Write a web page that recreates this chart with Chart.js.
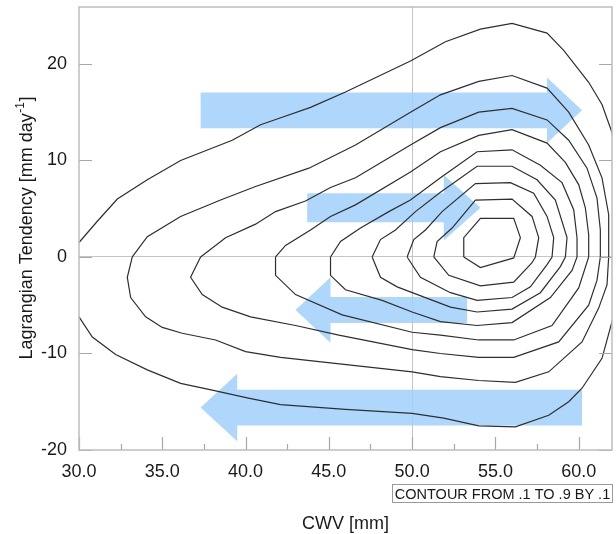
<!DOCTYPE html>
<html>
<head>
<meta charset="utf-8">
<script src="https://cdn.jsdelivr.net/npm/chart.js@4/dist/chart.umd.min.js"></script>
<style>
  html, body { margin: 0; padding: 0; background: #ffffff; }
  #wrap { width: 616px; height: 534px; }
</style>
</head>
<body>
<div id="wrap"><canvas id="chart" width="616" height="534"></canvas></div>
<script>
// ---- axis ticks ----
const xTicks = [30, 35, 40, 45, 50, 55, 60];
const xMinorTicks = [32.5, 37.5, 42.5, 47.5, 52.5, 57.5];
const yTicks = [-20, -10, 0, 10, 20];

// ---- contour levels of the joint frequency (normalised), outermost first ----
const levels = [0.1, 0.2, 0.3, 0.4, 0.5, 0.6, 0.7, 0.8, 0.9];

// each contour: [CWV (mm), Lagrangian tendency (mm/day)]
const c01 = [[30.0,1.5],[31.1,3.7],[32.3,6.0],[34.1,8.0],[36.1,10.0],[39.2,12.1],[40.9,13.7],[41.9,14.3],
  [43.9,15.5],[46.0,17.1],[49.9,20.3],[52.0,22.3],[54.1,23.6],[56.0,24.2],[58.1,23.2],[59.1,21.4],
  [60.6,18.1],[61.4,15.8],[62.0,12.9],[62.5,8.0],[62.8,3.0],[62.7,-2.0],[62.0,-6.7],[61.4,-10.5],
  [60.2,-13.6],[59.4,-15.0],[58.2,-16.4],[56.2,-17.6],[54.0,-17.5],[51.9,-16.7],[50.0,-16.2],
  [46.0,-15.8],[42.1,-15.3],[40.1,-14.6],[38.0,-13.8],[36.1,-13.1],[34.1,-11.7],[32.2,-10.1],
  [30.8,-8.3],[30.0,-6.2]];
const c02 = [[33.2,0.0],[34.1,2.1],[36.1,4.2],[38.5,5.9],[40.6,7.3],[43.8,9.2],[46.6,11.6],[49.9,15.0],
  [51.7,16.8],[54.0,18.2],[56.0,18.8],[58.1,17.5],[59.4,15.0],[60.6,11.6],[61.4,8.2],[61.8,4.4],
  [61.8,0.0],[61.7,-2.9],[61.2,-5.3],[60.2,-8.8],[58.2,-11.9],[56.2,-13.0],[54.0,-12.8],[51.7,-12.4],
  [50.0,-11.9],[42.1,-10.4],[40.0,-9.8],[38.2,-8.6],[36.2,-7.9],[35.0,-7.3],[34.0,-6.2],[33.1,-4.2],
  [32.9,-2.1]];
const c03 = [[37.3,0.0],[38.8,2.0],[40.6,3.4],[41.8,4.7],[43.6,5.8],[45.1,7.2],[46.6,8.2],[49.9,11.6],
  [51.7,13.4],[54.0,15.0],[56.0,15.4],[58.1,14.2],[59.4,12.1],[60.5,9.2],[61.1,6.1],[61.3,2.8],
  [61.3,0.0],[61.1,-2.4],[60.6,-5.0],[58.8,-8.8],[56.1,-10.4],[54.0,-10.4],[51.7,-10.0],[50.0,-9.6],
  [45.6,-8.1],[43.0,-7.1],[40.3,-6.2],[38.6,-5.2],[37.4,-3.9],[36.7,-2.1]];
const c04 = [[41.8,0.0],[42.4,1.2],[43.9,2.8],[45.1,4.2],[46.6,5.4],[49.9,8.8],[51.7,10.9],[54.0,12.6],
  [56.0,13.2],[58.1,11.8],[59.2,9.8],[60.0,7.5],[60.4,5.1],[60.6,2.3],[60.6,0.0],[60.0,-3.2],
  [58.4,-7.1],[56.1,-8.6],[54.0,-8.6],[51.7,-8.1],[50.0,-7.8],[45.8,-6.0],[43.0,-3.9],[41.8,-1.9]];
const c05 = [[45.1,0.0],[45.7,1.6],[46.9,3.0],[48.6,4.7],[49.9,5.9],[51.7,8.2],[53.9,10.9],[56.0,11.1],
  [57.7,9.5],[59.0,7.7],[59.7,4.9],[59.9,2.0],[59.9,0.0],[59.6,-1.4],[58.3,-4.2],[56.0,-6.8],
  [53.9,-7.1],[51.7,-6.7],[50.0,-5.7],[48.2,-4.5],[46.0,-3.4],[45.1,-1.9]];
const c06 = [[47.6,0.0],[48.1,1.8],[49.0,2.8],[50.2,4.7],[51.7,6.7],[53.9,9.4],[56.0,9.4],[57.5,8.0],
  [58.6,5.9],[59.3,2.0],[59.2,0.0],[58.9,-1.0],[57.7,-3.7],[56.0,-5.4],[53.9,-5.7],[52.3,-5.2],
  [49.1,-3.1],[48.1,-2.1]];
const c07 = [[49.7,0.0],[50.1,1.8],[50.8,2.8],[51.8,4.7],[53.8,7.6],[55.9,7.7],[57.3,6.6],[58.1,4.2],
  [58.5,2.0],[58.4,0.0],[58.1,-0.8],[57.1,-3.1],[56.0,-4.2],[53.9,-4.5],[52.3,-3.7],[50.5,-2.1]];
const c08 = [[51.3,0.0],[51.5,1.6],[52.4,3.0],[53.8,5.9],[56.0,6.0],[57.2,4.2],[57.6,2.0],[57.4,0.0],
  [57.2,-0.6],[56.1,-2.6],[54.1,-3.0],[52.2,-1.9]];
const c09 = [[53.1,0.0],[53.1,2.0],[54.1,4.0],[56.1,4.0],[56.5,2.0],[56.1,-0.1],[54.1,-1.1]];

const contours = [c01, c02, c03, c04, c05, c06, c07, c08, c09];
const openContours = [true, false, false, false, false, false, false, false, false];

// ---- flow arrows: tail x, tip x, centre y, shaft half-width, head half-width, head length ----
const arrowTail  = [37.3, 43.7, 53.3, 60.2];
const arrowTip   = [60.2, 54.1, 43.0, 37.3];
const arrowY     = [15.2, 5.1, -5.5, -15.6];
const arrowShaft = [1.85, 1.5, 1.35, 1.85];
const arrowHead  = [3.4, 3.4, 3.4, 3.5];
const arrowLen   = [2.1, 2.2, 2.1, 2.2];

const FONT = '"Liberation Sans", Arial, Helvetica, sans-serif';

function arrowPolygon(i) {
  const t = arrowTail[i], p = arrowTip[i], c = arrowY[i];
  const s = arrowShaft[i], h = arrowHead[i];
  const d = Math.sign(p - t);
  const b = p - d * arrowLen[i];
  const pts = [[t, c + s], [b, c + s], [b, c + h], [p, c], [b, c - h], [b, c - s], [t, c - s], [t, c + s]];
  return pts.map(([x, y]) => ({ x, y }));
}

const datasets = [];
arrowTail.forEach((_, i) => {
  datasets.push({
    label: 'arrow' + (i + 1),
    data: arrowPolygon(i),
    showLine: true,
    borderWidth: 0,
    borderColor: 'rgba(0,0,0,0)',
    backgroundColor: 'rgba(160,208,250,0.85)',
    fill: 'shape',
    pointRadius: 0,
    pointHoverRadius: 0,
    tension: 0,
    order: 2
  });
});
contours.forEach((c, i) => {
  const pts = c.map(([x, y]) => ({ x, y }));
  if (!openContours[i]) pts.push({ x: c[0][0], y: c[0][1] });
  datasets.push({
    label: 'level ' + levels[i].toFixed(1),
    data: pts,
    showLine: true,
    borderColor: '#2e2e2e',
    borderWidth: 1.2,
    fill: false,
    pointRadius: 0,
    pointHoverRadius: 0,
    tension: 0,
    order: 1
  });
});

// frame, inward tick marks, axis titles and contour note
const decorations = {
  id: 'decorations',
  afterDatasetsDraw(chart) {
    const { ctx, chartArea: a, scales } = chart;
    const xs = scales.x, ys = scales.y;
    ctx.save();
    // inward ticks
    ctx.strokeStyle = '#a8a8a8';
    ctx.lineWidth = 1.2;
    ctx.beginPath();
    xTicks.forEach(v => {
      const px = Math.round(xs.getPixelForValue(v)) + 0.5;
      ctx.moveTo(px, a.bottom); ctx.lineTo(px, a.bottom - 13);
    });
    xMinorTicks.forEach(v => {
      const px = Math.round(xs.getPixelForValue(v)) + 0.5;
      ctx.moveTo(px, a.bottom); ctx.lineTo(px, a.bottom - 6);
    });
    yTicks.forEach(v => {
      const py = Math.round(ys.getPixelForValue(v)) + 0.5;
      ctx.moveTo(a.left, py); ctx.lineTo(a.left + 13, py);
      ctx.moveTo(a.right, py); ctx.lineTo(a.right - 13, py);
    });
    ctx.stroke();
    // frame
    ctx.strokeStyle = '#bdbdbd';
    ctx.lineWidth = 1.5;
    ctx.strokeRect(a.left, a.top, a.right - a.left, a.bottom - a.top);

    // y title with superscript
    ctx.fillStyle = '#1a1a1a';
    const main = 'Lagrangian Tendency [mm day', sup = '-1', tail = ']';
    ctx.font = '18px ' + FONT;
    const w1 = ctx.measureText(main).width, w3 = ctx.measureText(tail).width;
    ctx.font = '12px ' + FONT;
    const w2 = ctx.measureText(sup).width;
    ctx.translate(27, (a.top + a.bottom) / 2);
    ctx.rotate(-Math.PI / 2);
    ctx.textBaseline = 'alphabetic';
    ctx.textAlign = 'left';
    const x0 = -(w1 + w2 + w3) / 2;
    ctx.font = '18px ' + FONT;
    ctx.fillText(main, x0, 5);
    ctx.font = '12px ' + FONT;
    ctx.fillText(sup, x0 + w1 + 0.5, -3);
    ctx.font = '18px ' + FONT;
    ctx.fillText(tail, x0 + w1 + w2 + 1, 5);
    ctx.setTransform(1, 0, 0, 1, 0, 0);

    // x title
    ctx.font = '18px ' + FONT;
    ctx.textAlign = 'center';
    ctx.fillText('CWV [mm]', (a.left + a.right) / 2, 529);

    // contour interval note
    ctx.strokeStyle = '#9a9a9a';
    ctx.lineWidth = 1;
    ctx.strokeRect(392.5, 484.5, 220, 18);
    ctx.font = '14.5px ' + FONT;
    ctx.textAlign = 'center';
    ctx.fillStyle = '#1a1a1a';
    ctx.fillText('CONTOUR FROM .1 TO .9 BY .1', 502.5, 499);
    ctx.restore();
  }
};

new Chart(document.getElementById('chart'), {
  type: 'scatter',
  data: { datasets },
  options: {
    responsive: false,
    animation: false,
    events: [],
    layout: { padding: { left: 0, right: 4, top: 7, bottom: 0 } },
    plugins: { legend: { display: false }, tooltip: { enabled: false } },
    scales: {
      x: {
        type: 'linear',
        min: 30, max: 62,
        afterBuildTicks: s => { s.ticks = xTicks.map(v => ({ value: v })); },
        afterFit: s => { s.height = 84; s.paddingLeft = 0; s.paddingRight = 0; },
        ticks: {
          callback: v => Number(v).toFixed(1),
          color: '#1a1a1a',
          font: { family: FONT, size: 18 },
          padding: 11,
          maxRotation: 0,
          autoSkip: false
        },
        grid: {
          drawTicks: false,
          lineWidth: 1,
          color: c => (c.tick && c.tick.value === 50 ? '#c4c4c4' : 'rgba(0,0,0,0)')
        },
        border: { display: false }
      },
      y: {
        type: 'linear',
        min: -20, max: 25.9,
        afterBuildTicks: s => { s.ticks = yTicks.map(v => ({ value: v })); },
        afterFit: s => { s.width = 79; s.paddingTop = 0; s.paddingBottom = 0; },
        ticks: {
          callback: v => String(v),
          color: '#1a1a1a',
          font: { family: FONT, size: 18 },
          padding: 12,
          autoSkip: false
        },
        grid: {
          drawTicks: false,
          lineWidth: 1,
          color: c => (c.tick && c.tick.value === 0 ? '#c4c4c4' : 'rgba(0,0,0,0)')
        },
        border: { display: false }
      }
    }
  },
  plugins: [decorations]
});
</script>
</body>
</html>
